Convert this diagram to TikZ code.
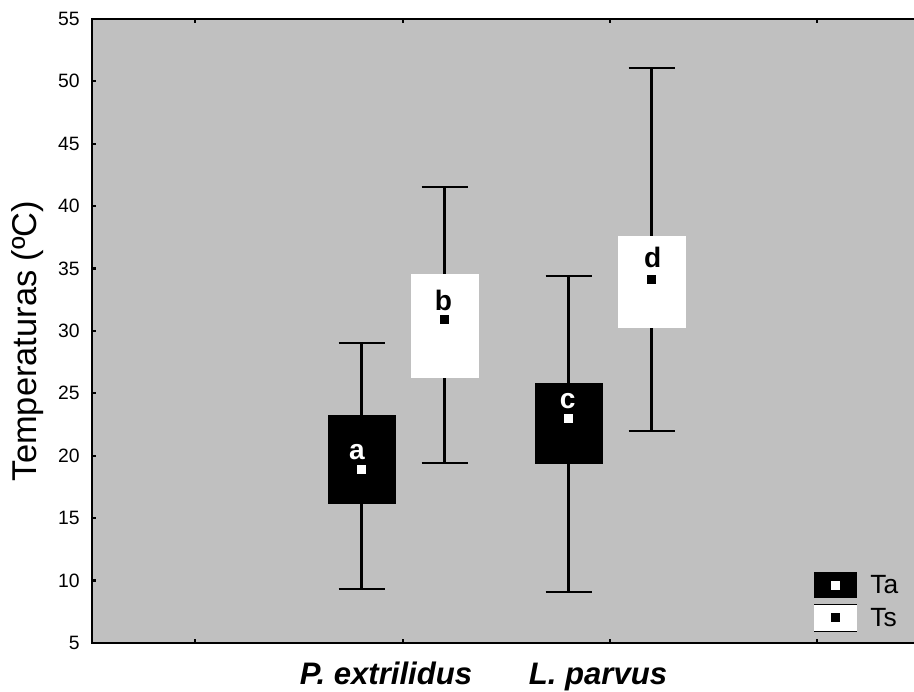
\documentclass[tikz,border=0pt]{standalone}
\usepackage{fontspec}
\setmainfont{Liberation Sans}
\definecolor{plotbg}{RGB}{192,192,192}
\tikzset{
  axisline/.style={line width=1.3pt},
  whisk/.style={line width=1.15pt},
  ticklab/.style={anchor=east, inner sep=0pt, font=\fontsize{11}{11}\selectfont},
  grplab/.style={anchor=base, inner sep=0pt, font=\fontsize{16}{16}\selectfont\bfseries},
  meanmark/.style={rectangle, inner sep=0pt, minimum size=0.18cm},
  leglab/.style={anchor=base west, inner sep=0pt, font=\fontsize{15}{15}\selectfont}
}
\begin{document}
\begin{tikzpicture}[x=0.02cm, y=0.2496cm]
  \useasboundingbox (0,1.074) rectangle (914,56.52);
  % plot area
  \fill[plotbg] (92,5) rectangle (914,55);
  \draw[axisline] (914,55) -- (92,55) -- (92,5) -- (914,5);
  \foreach \v in {5,10,...,55} {
    \draw[axisline] (92,\v) -- (96,\v);
    \node[ticklab] (tick\v) at (80,\v) {\v};
  }
  \foreach \x in {195,403,610,817} {
    \draw[axisline] (\x,5) -- (\x,5.32);
    \draw[axisline] (\x,55) -- (\x,54.68);
  }
  \node[rotate=90, anchor=base, inner sep=0pt, font=\fontsize{19.6}{20}\selectfont] (ytitle) at (36,29.2) {Temperaturas (ºC)};
  \node[anchor=base, inner sep=0pt, font=\fontsize{17.7}{18}\selectfont\bfseries\itshape] (spA) at (386,1.635) {P. extrilidus};
  \node[anchor=base, inner sep=0pt, font=\fontsize{17.7}{18}\selectfont\bfseries\itshape] (spB) at (598,1.635) {L. parvus};
  % P. extrilidus, Ta
  \draw[whisk] (361.5,9.35) -- (361.5,29.0);
  \draw[whisk] (338.5,9.35) -- (384.5,9.35);
  \draw[whisk] (338.5,29.0) -- (384.5,29.0);
  \fill[black] (327.5,16.16) rectangle (395.5,23.27);
  \node[meanmark, fill=white] (meanA) at (361.5,18.9) {};
  \node[grplab, text=white] (labA) at (357,19.66) {a};
  % P. extrilidus, Ts
  \draw[whisk] (444.5,19.4) -- (444.5,41.5);
  \draw[whisk] (421.5,19.4) -- (467.5,19.4);
  \draw[whisk] (421.5,41.5) -- (467.5,41.5);
  \fill[white] (410.5,26.26) rectangle (478.5,34.6);
  \node[meanmark, fill=black] (meanB) at (444.5,30.9) {};
  \node[grplab] (labB) at (443.5,31.6) {b};
  % L. parvus, Ta
  \draw[whisk] (568.5,9.1) -- (568.5,34.4);
  \draw[whisk] (545.5,9.1) -- (591.5,9.1);
  \draw[whisk] (545.5,34.4) -- (591.5,34.4);
  \fill[black] (534.5,19.3) rectangle (602.5,25.83);
  \node[meanmark, fill=white] (meanC) at (568.5,23.0) {};
  \node[grplab, text=white] (labC) at (567.7,23.81) {c};
  % L. parvus, Ts
  \draw[whisk] (651.5,22.0) -- (651.5,51.1);
  \draw[whisk] (628.5,22.0) -- (674.5,22.0);
  \draw[whisk] (628.5,51.1) -- (674.5,51.1);
  \fill[white] (617.5,30.26) rectangle (685.5,37.6);
  \node[meanmark, fill=black] (meanD) at (651.5,34.1) {};
  \node[grplab] (labD) at (652.7,35.07) {d};
  % legend
  \fill[black] (814,8.58) rectangle (857,10.71);
  \node[meanmark, fill=white] (legA) at (835,9.59) {};
  \fill[white] (814,5.96) rectangle (857,8.10);
  \draw[line width=0.4pt] (814,8.10) -- (857,8.10) (814,5.96) -- (857,5.96);
  \node[meanmark, fill=black] (legB) at (835,7.06) {};
  \node[leglab] (legTa) at (870,8.93) {Ta};
  \node[leglab] (legTs) at (870,6.28) {Ts};
\end{tikzpicture}
\end{document}
